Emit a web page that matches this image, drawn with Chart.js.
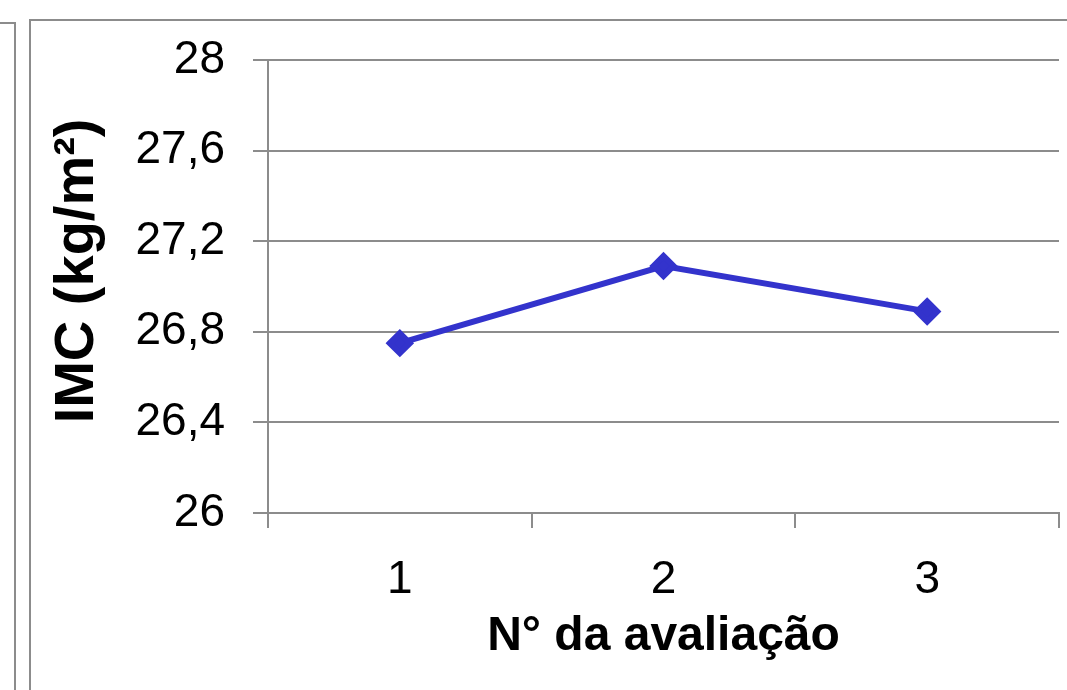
<!DOCTYPE html>
<html>
<head>
<meta charset="utf-8">
<script src="https://cdn.jsdelivr.net/npm/chart.js@4/dist/chart.umd.min.js"></script>
<style>
  html, body { margin: 0; padding: 0; background: #fff; }
  #page { position: relative; width: 1067px; height: 690px; overflow: hidden; }
  .frame { position: absolute; border: 2px solid #8c8c8c; box-sizing: border-box; }
  #frameA { left: -20px; top: 22px; width: 36px; height: 700px; }
  #frameB { left: 29px; top: 19px; width: 1100px; height: 700px; }
  #wrap { position: absolute; left: 0; top: 0; width: 1067px; height: 690px; }
</style>
</head>
<body>
<div id="page">
  <div class="frame" id="frameA"></div>
  <div class="frame" id="frameB"></div>
  <div id="wrap"><canvas id="chart"></canvas></div>
</div>
<script>
// Evaluation number and body mass index at each one
const categories = ['1', '2', '3'];
const imcValues = [26.75, 27.09, 26.89];
const yTickLabels = ['26', '26,4', '26,8', '27,2', '27,6', '28'];
const yMin = 26;
const yMax = 28;
const yStep = 0.4;

const gridGray = '#8c8c8c';
const lineBlue = '#3333cc';
const fontFamily = 'Liberation Sans, Arial, sans-serif';

new Chart(document.getElementById('chart'), {
  type: 'line',
  data: {
    labels: categories,
    datasets: [{
      label: 'IMC',
      data: imcValues,
      borderColor: lineBlue,
      backgroundColor: lineBlue,
      borderWidth: 6,
      pointStyle: 'rectRot',
      pointRadius: 10,
      pointHoverRadius: 10,
      tension: 0
    }]
  },
  options: {
    responsive: true,
    maintainAspectRatio: false,
    animation: false,
    layout: { autoPadding: false, padding: { top: 60, right: 8, left: 0, bottom: 0 } },
    plugins: { legend: { display: false }, tooltip: { enabled: false } },
    scales: {
      x: {
        offset: true,
        grid: {
          offset: true,
          drawOnChartArea: false,
          drawTicks: true,
          tickLength: 15,
          color: gridGray,
          lineWidth: 2
        },
        border: { color: gridGray, width: 2 },
        ticks: {
          color: '#000',
          padding: 25,
          font: { family: fontFamily, size: 46 }
        },
        title: {
          display: true,
          text: 'N° da avaliação',
          color: '#000',
          padding: { top: 0, bottom: 24 },
          font: { family: fontFamily, size: 48, weight: 'bold' }
        },
        afterFit: (scale) => { scale.height = 177; }
      },
      y: {
        min: yMin,
        max: yMax,
        grid: {
          color: gridGray,
          lineWidth: 2,
          tickLength: 15
        },
        border: { color: gridGray, width: 2 },
        ticks: {
          stepSize: yStep,
          color: '#000',
          padding: 28,
          font: { family: fontFamily, size: 46 },
          callback: (value, index) => yTickLabels[index]
        },
        title: {
          display: true,
          text: '  IMC (kg/m²)',
          color: '#000',
          padding: { top: 44, bottom: 0 },
          font: { family: fontFamily, size: 56, weight: 'bold' }
        },
        afterFit: (scale) => { scale.width = 268; }
      }
    }
  }
});
</script>
</body>
</html>
